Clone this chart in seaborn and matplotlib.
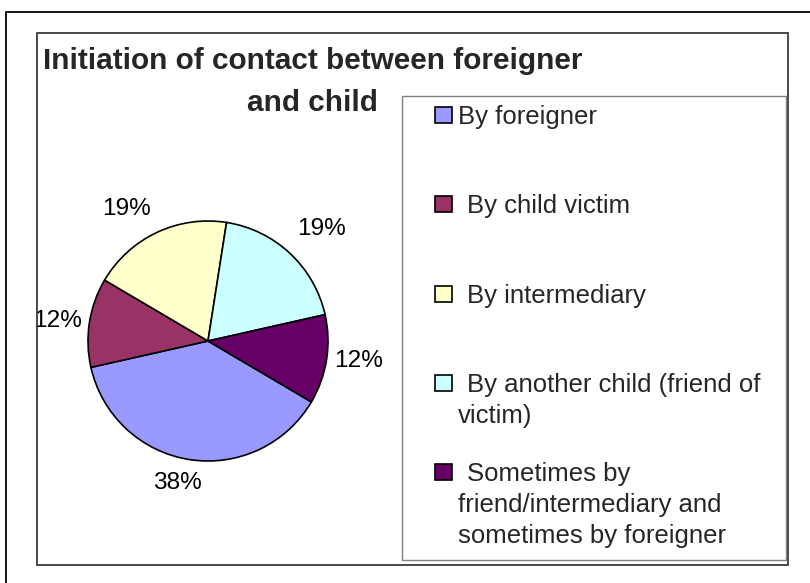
import numpy as np
import seaborn as sns
import matplotlib
matplotlib.use("Agg")
import matplotlib.pyplot as plt
from matplotlib.patches import Rectangle

# =========================
# Data
# =========================
categories = [
    "By foreigner",
    "By child victim",
    "By intermediary",
    "By another child (friend of\nvictim)",
    "Sometimes by\nfriend/intermediary and\nsometimes by foreigner",
]
shares = [38, 12, 19, 19, 12]
colors = ["#9999FF", "#993366", "#FFFFCC", "#CCFFFF", "#660066"]
title_lines = ["Initiation of contact between foreigner", "and child"]

# small pixel nudges for the percent labels (Excel "best fit" placement)
label_nudge = [(-7, -9), (0, 4), (-16, 6), (9, -1), (0, -4)]

# =========================
# Style
# =========================
sns.set_theme(style="white")
plt.rcParams["font.family"] = ["Liberation Sans", "DejaVu Sans"]

W, H = 810, 583
fig = plt.figure(figsize=(W / 100, H / 100), dpi=100)
fig.patch.set_facecolor("white")


def fx(x):
    return x / W


def fy(y):
    return 1 - y / H


def box(x0, y0, x1, y1, color, lw):
    fig.add_artist(Rectangle((fx(x0), fy(y1)), fx(x1) - fx(x0), fy(y0) - fy(y1),
                             transform=fig.transFigure, fill=False,
                             edgecolor=color, linewidth=lw))


# frames
box(6, 12, 830, 600, "black", 1.3)
box(37, 33, 788, 565, "#3a3a3a", 1.3)
box(402, 96, 786, 560, "#808080", 1.0)

# =========================
# Pie
# =========================
r = 120
cx, cy = 208, 341
ax = fig.add_axes([fx(cx - r), fy(cy + r), 2 * r / W, 2 * r / H])
wedges, _, pct = ax.pie(
    shares, colors=colors, startangle=-30.5, counterclock=False,
    autopct="%.0f%%", pctdistance=1.27,
    wedgeprops=dict(edgecolor="black", linewidth=1.2, clip_on=False),
    textprops=dict(fontsize=17.6, color="black"),
)
ax.set_xlim(-1, 1)
ax.set_ylim(-1, 1)
ax.set_aspect("equal")
ax.axis("off")

# nudge percent labels a little (data units: 1 = r pixels)
for t, (dx, dy) in zip(pct, label_nudge):
    x, y = t.get_position()
    t.set_position((x + dx / r, y - dy / r))

# =========================
# Title
# =========================
for k, (line, base) in enumerate(zip(title_lines, [69, 111])):
    fig.text(fx(312.5), fy(base), line, ha="center", va="baseline",
             fontsize=21.4, fontweight="bold")

# =========================
# Legend (Excel style, marker next to first line)
# =========================
fs = 18.5
line_step = 31
for i, (lab, col) in enumerate(zip(categories, colors)):
    yc = 115 + 89.25 * i
    fig.add_artist(Rectangle((fx(435), fy(yc + 8)), 17 / W, 16 / H,
                             transform=fig.transFigure, facecolor=col,
                             edgecolor="black", linewidth=1.2))
    for j, line in enumerate(lab.split("\n")):
        x = 458 if (i == 0 or j > 0) else 467
        fig.text(fx(x), fy(yc + j * line_step + 0.36 * fs * 100 / 72), line,
                 ha="left", va="baseline", fontsize=fs)

plt.savefig("out.png", dpi=100)
